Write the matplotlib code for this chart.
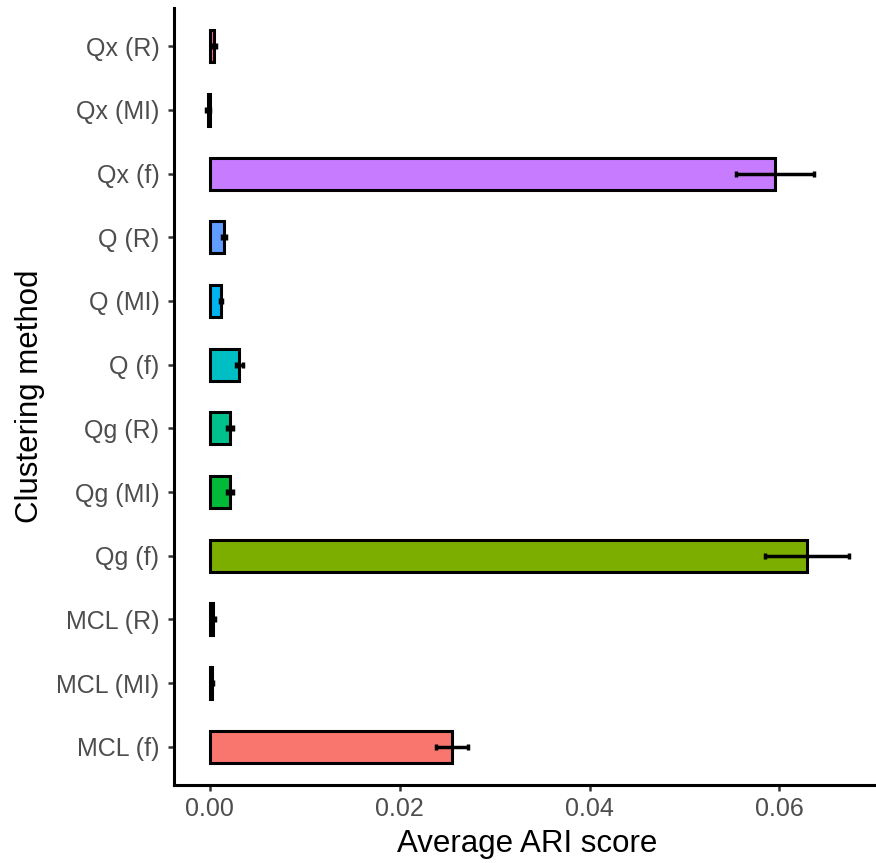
import matplotlib
matplotlib.use("Agg")
import matplotlib.pyplot as plt
import numpy as np

plt.rcParams['font.family'] = ['Liberation Sans', 'DejaVu Sans']

methods = ["MCL (f)", "MCL (MI)", "MCL (R)", "Qg (f)", "Qg (MI)", "Qg (R)",
           "Q (f)", "Q (MI)", "Q (R)", "Qx (f)", "Qx (MI)", "Qx (R)"]
ari_mean = [0.0255, 0.0002, 0.0003, 0.0629, 0.0021, 0.0021,
            0.0031, 0.0012, 0.0015, 0.0595, -0.0002, 0.0004]
ari_err = [0.0017, 0.0001, 0.0002, 0.0044, 0.0003, 0.0003,
           0.0004, 0.0001, 0.0002, 0.0041, 0.0002, 0.0002]
colors = ["#F8766D", "#DE8C00", "#B79F00", "#7CAE00", "#00BA38", "#00C08B",
          "#00BFC4", "#00B4F0", "#619CFF", "#C77CFF", "#F564E3", "#FF64B0"]
xticks = [0.00, 0.02, 0.04, 0.06]
xtick_labels = ["0.00", "0.02", "0.04", "0.06"]

fig = plt.figure(figsize=(8.76, 8.63), dpi=100)
ax = fig.add_axes([0.1986, 0.0904, 0.807, 0.9003])

y = np.arange(1, len(methods) + 1)
ax.barh(y, ari_mean, height=0.5, color=colors, edgecolor="black", linewidth=2.2, zorder=2)
ax.errorbar(ari_mean, y, xerr=ari_err, fmt="none", ecolor="black",
            elinewidth=2.5, capsize=2.3, capthick=2.5, zorder=3)

lo = min(m - e for m, e in zip(ari_mean, ari_err))
lo = min(lo, 0)
hi = max(m + e for m, e in zip(ari_mean, ari_err))
pad = (hi - lo) * 0.05
ax.set_xlim(lo - pad, hi + pad)
ax.set_ylim(0.4, len(methods) + 0.6)

ax.set_yticks(y)
ax.set_yticklabels(methods)
ax.set_xticks(xticks)
ax.set_xticklabels(xtick_labels)
ax.tick_params(axis="both", labelsize=18, labelcolor="#4D4D4D", color="#333333",
               length=4.5, width=1.8)
ax.tick_params(axis="y", pad=6)
ax.tick_params(axis="x", pad=4)

for s in ["top", "right"]:
    ax.spines[s].set_visible(False)
for s in ["left", "bottom"]:
    ax.spines[s].set_linewidth(2.2)
    ax.spines[s].set_color("black")

ax.set_xlabel("Average ARI score", fontsize=22.5, labelpad=6)
ax.set_ylabel("Clustering method", fontsize=22.5, labelpad=8)

fig.savefig("out.png", dpi=100)
